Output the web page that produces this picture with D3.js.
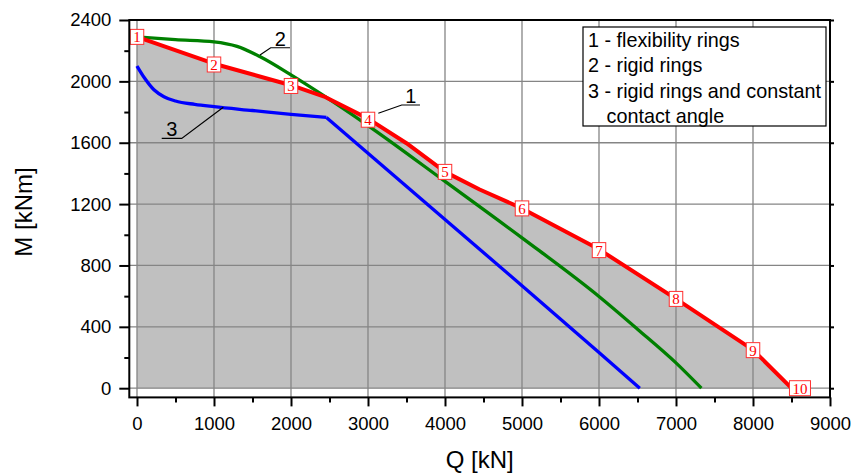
<!DOCTYPE html>
<html>
<head>
<meta charset="utf-8">
<script src="https://cdn.jsdelivr.net/npm/d3@7/dist/d3.min.js"></script>
<style>
  html, body { margin: 0; padding: 0; background: #fff; }
  svg { display: block; font-family: "Liberation Sans", Arial, Helvetica, sans-serif; }
</style>
</head>
<body>
<svg id="chart" width="857" height="475"></svg>
<script>
// ---------------- data ----------------
const xTicks = [0, 1000, 2000, 3000, 4000, 5000, 6000, 7000, 8000, 9000];
const yTicks = [0, 400, 800, 1200, 1600, 2000, 2400];

// curve 1 - flexibility rings (red)
const q1 = [0, 1000, 2000, 2450, 3000, 3500, 4000, 4450, 5000, 6000, 7000, 8000, 8500];
const m1 = [2290, 2115, 1975, 1897, 1757, 1597, 1410, 1295, 1172, 905, 582, 250, 0];

// curve 2 - rigid rings (green)
const q2 = [0, 500, 1000, 1300, 1600, 2000, 2400, 3000, 4000, 5000, 6000, 6500, 7000, 7330];
const m2 = [2290, 2272, 2258, 2228, 2160, 2042, 1915, 1712, 1348, 980, 598, 385, 165, 0];

// curve 3 - rigid rings and constant contact angle (blue)
// curved part up to the kink, then straight part
const q3 = [0, 100, 220, 350, 500, 750, 1000, 1500, 2000, 2460];
const m3 = [2100, 2020, 1945, 1900, 1872, 1850, 1835, 1810, 1785, 1765];
const q3b = [2460, 4000, 5000, 6000, 6530];
const m3b = [1765, 1100, 668, 232, 0];

// numbered markers on curve 1
const markerLabels = ["1", "2", "3", "4", "5", "6", "7", "8", "9", "10"];
const markerQ = [0, 1000, 2000, 3000, 4000, 5000, 6000, 7000, 8000, 8610];
const markerM = [2290, 2110, 1970, 1750, 1410, 1172, 900, 582, 248, 0];

// curve callouts: label, leader start (Q,M), underline from/to Q at M
const calloutLabels = ["1", "2", "3"];
const calloutFromQ = [3134, 1597, 1121];
const calloutFromM = [1792, 2172, 1831];
const calloutLineQa = [3438, 1736, 581];
const calloutLineQb = [3675, 1987, 321];
const calloutLineM = [1846, 2219, 1628];

const legendLabels = ["1 - flexibility rings", "2 - rigid rings", "3 - rigid rings and constant", "contact angle"];

const xTitle = "Q [kN]";
const yTitle = "M [kNm]";

// ---------------- layout ----------------
const svg = d3.select("#chart");
const pLeft = 129.3, pRight = 830, pTop = 20, pBottom = 397.4;

const x = d3.scaleLinear().domain([-100, 9000]).range([pLeft, pRight]);
const y = d3.scaleLinear().domain([-60, 2400]).range([pBottom, pTop]);

const series = (qs, ms) => qs.map((q, i) => [q, ms[i]]);
const s1 = series(q1, m1), s2 = series(q2, m2), s3 = series(q3, m3), s3b = series(q3b, m3b);

// fill under curve 1
const area = d3.area().x(d => x(d[0])).y0(y(0)).y1(d => y(d[1]));
svg.append("path").datum(s1).attr("d", area).attr("fill", "#c0c0c0");

// grid
const grid = svg.append("g").attr("stroke", "#858585").attr("stroke-width", 1.3);
grid.selectAll(".gx").data(xTicks).join("line").attr("class", "gx")
  .attr("x1", d => x(d)).attr("x2", d => x(d)).attr("y1", pTop).attr("y2", pBottom);
grid.selectAll(".gy").data(yTicks).join("line").attr("class", "gy")
  .attr("y1", d => y(d)).attr("y2", d => y(d)).attr("x1", pLeft).attr("x2", pRight);

// curves
const lineLin = d3.line().x(d => x(d[0])).y(d => y(d[1]));
const lineSmooth = d3.line().x(d => x(d[0])).y(d => y(d[1])).curve(d3.curveMonotoneX);
svg.append("path").datum(s3).attr("d", lineSmooth).attr("fill", "none")
  .attr("stroke", "#0000ff").attr("stroke-width", 3.3);
svg.append("path").datum(s3b).attr("d", lineLin).attr("fill", "none")
  .attr("stroke", "#0000ff").attr("stroke-width", 3.3).attr("stroke-linejoin", "round");
svg.append("path").datum(s2).attr("d", lineSmooth).attr("fill", "none")
  .attr("stroke", "#008000").attr("stroke-width", 3.3);
svg.append("path").datum(s1).attr("d", lineLin).attr("fill", "none")
  .attr("stroke", "#ff0000").attr("stroke-width", 4).attr("stroke-linejoin", "round");

// callouts
const co = svg.append("g").attr("stroke", "#000").attr("stroke-width", 1.2).attr("fill", "none");
calloutLabels.forEach((lab, i) => {
  const ax = x(calloutFromQ[i]), ay = y(calloutFromM[i]);
  const bx = x(calloutLineQa[i]), by = y(calloutLineM[i]);
  const cx = x(calloutLineQb[i]);
  co.append("polyline").attr("points", `${ax},${ay} ${bx},${by} ${cx},${by}`);
  svg.append("text").attr("x", (bx + cx) / 2).attr("y", by - 2)
    .attr("text-anchor", "middle").attr("font-size", 20).attr("fill", "#000").text(lab);
});

// numbered markers
const mk = svg.append("g");
markerLabels.forEach((lab, i) => {
  const cx = x(markerQ[i]), cy = y(markerM[i]);
  const g = mk.append("g");
  const r = g.append("rect");
  const t = g.append("text").attr("x", cx).attr("y", cy + 5.5)
    .attr("text-anchor", "middle")
    .attr("font-family", "'Liberation Serif', 'Times New Roman', serif")
    .attr("font-size", 15).attr("fill", "#ff0000").text(lab);
  const w = t.node().getComputedTextLength() + 6;
  r.attr("x", cx - w / 2).attr("y", cy - 7.5).attr("width", w).attr("height", 15)
    .attr("fill", "#fff").attr("stroke", "#ff3030").attr("stroke-width", 1);
});

// axes
const fs = 18.5;
const xMinor = d3.range(500, 9000, 1000);
const yMinor = d3.range(200, 2400, 400);

const xAxis = svg.append("g").attr("transform", `translate(0,${pBottom})`)
  .call(d3.axisBottom(x).tickValues(xTicks).tickFormat(d3.format("d")).tickSize(9).tickPadding(10));
const xAxisMinor = svg.append("g").attr("transform", `translate(0,${pBottom})`)
  .call(d3.axisBottom(x).tickValues(xMinor).tickFormat("").tickSize(5));
const yAxis = svg.append("g").attr("transform", `translate(${pLeft},0)`)
  .call(d3.axisLeft(y).tickValues(yTicks).tickFormat(d3.format("d")).tickSize(10).tickPadding(8));
const yAxisMinor = svg.append("g").attr("transform", `translate(${pLeft},0)`)
  .call(d3.axisLeft(y).tickValues(yMinor).tickFormat("").tickSize(5));
const yAxisR = svg.append("g").attr("transform", `translate(${pRight},0)`)
  .call(d3.axisRight(y).tickValues(yTicks).tickFormat("").tickSize(4));

[xAxis, xAxisMinor, yAxis, yAxisMinor, yAxisR].forEach(g => {
  g.select(".domain").remove();
  g.selectAll("line").attr("stroke", "#000").attr("stroke-width", 2);
  g.selectAll("text").attr("font-size", fs).attr("fill", "#000")
    .attr("font-family", "'Liberation Sans', Arial, sans-serif");
});

// frame
svg.append("rect").attr("x", pLeft).attr("y", pTop).attr("width", pRight - pLeft).attr("height", pBottom - pTop)
  .attr("fill", "none").attr("stroke", "#000").attr("stroke-width", 2);

// legend
const lg = svg.append("g");
lg.append("rect").attr("x", 583).attr("y", 27).attr("width", 243).attr("height", 99)
  .attr("fill", "#fff").attr("stroke", "#000").attr("stroke-width", 1.2);
const lgBase = [47, 72, 97.5, 122.5];
legendLabels.forEach((t, i) => {
  lg.append("text").attr("x", i === 3 ? 606.5 : 588).attr("y", lgBase[i])
    .attr("font-size", 19.8).attr("fill", "#000").text(t);
});

// axis titles
svg.append("text").attr("x", (pLeft + pRight) / 2).attr("y", 468)
  .attr("text-anchor", "middle").attr("font-size", 24).attr("fill", "#000").text(xTitle);
svg.append("text").attr("transform", `translate(31.5,212) rotate(-90)`)
  .attr("text-anchor", "middle").attr("font-size", 24).attr("fill", "#000").text(yTitle);
</script>
</body>
</html>
